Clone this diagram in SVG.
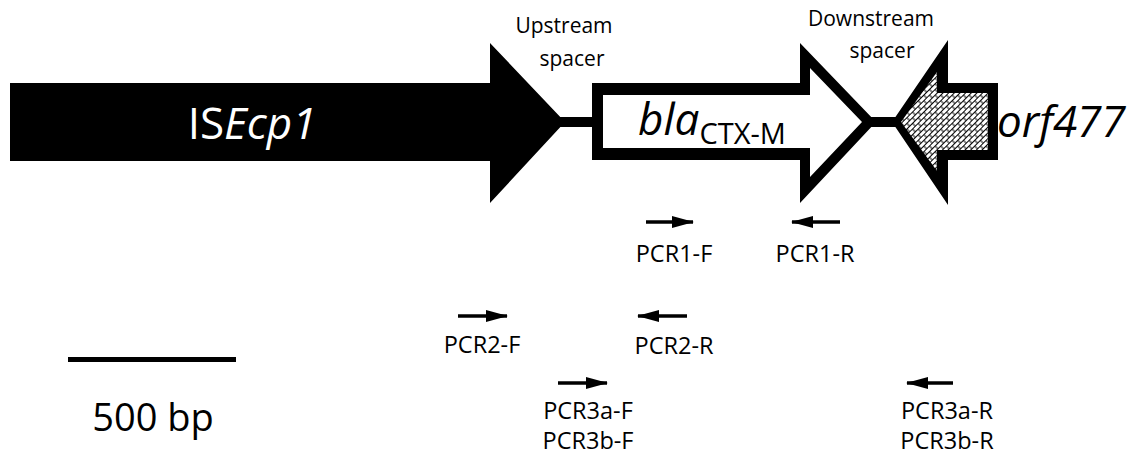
<svg xmlns="http://www.w3.org/2000/svg" width="1143" height="456" viewBox="0 0 1143 456">
<style>
.lbl{font-family:"Open Sans","Liberation Sans",sans-serif;font-size:21px;fill:#000;text-anchor:middle}
.pl{font-family:"Open Sans","Liberation Sans",sans-serif;font-size:23.5px;fill:#000;text-anchor:middle}
.gene{font-family:"Open Sans","Liberation Sans",sans-serif;font-size:44px}
.pr{stroke:#000;stroke-width:3.5;fill:none}
</style>
<defs>
<marker id="ah" markerUnits="userSpaceOnUse" markerWidth="22" markerHeight="14" refX="21" refY="7" orient="auto">
<path d="M0,1 L22,7 L0,13 Z" fill="#000"/>
</marker>
<pattern id="hatch" width="8" height="8" patternUnits="userSpaceOnUse" patternTransform="rotate(-45)">
<rect width="8" height="8" fill="#fff"/>
<path d="M0,0.5 H8 M0,4.5 H8 M2,0.5 V4.5 M6,4.5 V8.5" stroke="#000" stroke-width="1" fill="none"/>
</pattern>
</defs>
<rect width="1143" height="456" fill="#fff"/>
<g id="connectors">
<rect x="560" y="117" width="36" height="10" fill="#000"/>
<rect x="870" y="117" width="26" height="10" fill="#000"/>
</g>
<g id="isecp1">
<polygon points="10,83 490,83 490,43 565,122 490,203 490,161 10,161" fill="#000"/>
<text class="gene" x="252" y="139" fill="#fff" text-anchor="middle">IS<tspan font-style="italic">Ecp1</tspan></text>
</g>
<g id="bla">
<polygon points="592,83 800,83 800,43 876,122 800,203 800,160 592,160" fill="#000"/>
<polygon points="603,95 810,95 810,68 862,122 810,177 810,148 603,148" fill="#fff"/>
<text class="gene" x="638" y="135" font-style="italic" font-size="49">bla<tspan font-style="normal" font-size="29" dy="9">CTX-M</tspan></text>
</g>
<g id="orf477">
<polygon points="892,122 948,40 948,83 998,83 998,160 948,160 948,205" fill="#000"/>
<polygon points="901,122 937,72 937,93 988,93 988,150 937,150 937,171" fill="url(#hatch)"/>
<text class="gene" x="997" y="137" font-style="italic" font-size="48">orf477</text>
</g>
<g id="upstream-label">
<text class="lbl" x="564" y="33">Upstream</text>
<text class="lbl" x="572" y="66">spacer</text>
</g>
<g id="downstream-label">
<text class="lbl" x="871" y="26">Downstream</text>
<text class="lbl" x="882" y="58">spacer</text>
</g>
<g id="pcr1-f">
<line class="pr" x1="646" y1="222" x2="693" y2="222" marker-end="url(#ah)"/>
<text class="pl" x="674" y="262">PCR1-F</text>
</g>
<g id="pcr1-r">
<line class="pr" x1="840" y1="222" x2="792" y2="222" marker-end="url(#ah)"/>
<text class="pl" x="815" y="262">PCR1-R</text>
</g>
<g id="pcr2-f">
<line class="pr" x1="458" y1="316" x2="507" y2="316" marker-end="url(#ah)"/>
<text class="pl" x="482" y="353">PCR2-F</text>
</g>
<g id="pcr2-r">
<line class="pr" x1="687" y1="316" x2="638" y2="316" marker-end="url(#ah)"/>
<text class="pl" x="674" y="354">PCR2-R</text>
</g>
<g id="pcr3-f">
<line class="pr" x1="558" y1="383" x2="607" y2="383" marker-end="url(#ah)"/>
<text class="pl" x="588" y="419">PCR3a-F</text>
<text class="pl" x="588" y="449">PCR3b-F</text>
</g>
<g id="pcr3-r">
<line class="pr" x1="953" y1="383" x2="907" y2="383" marker-end="url(#ah)"/>
<text class="pl" x="947" y="419">PCR3a-R</text>
<text class="pl" x="947" y="449">PCR3b-R</text>
</g>
<g id="scale-bar">
<rect x="68" y="357" width="168" height="5" fill="#000"/>
<text x="153" y="431" font-family="Open Sans, Liberation Sans, sans-serif" font-size="38" text-anchor="middle">500 bp</text>
</g>
</svg>
